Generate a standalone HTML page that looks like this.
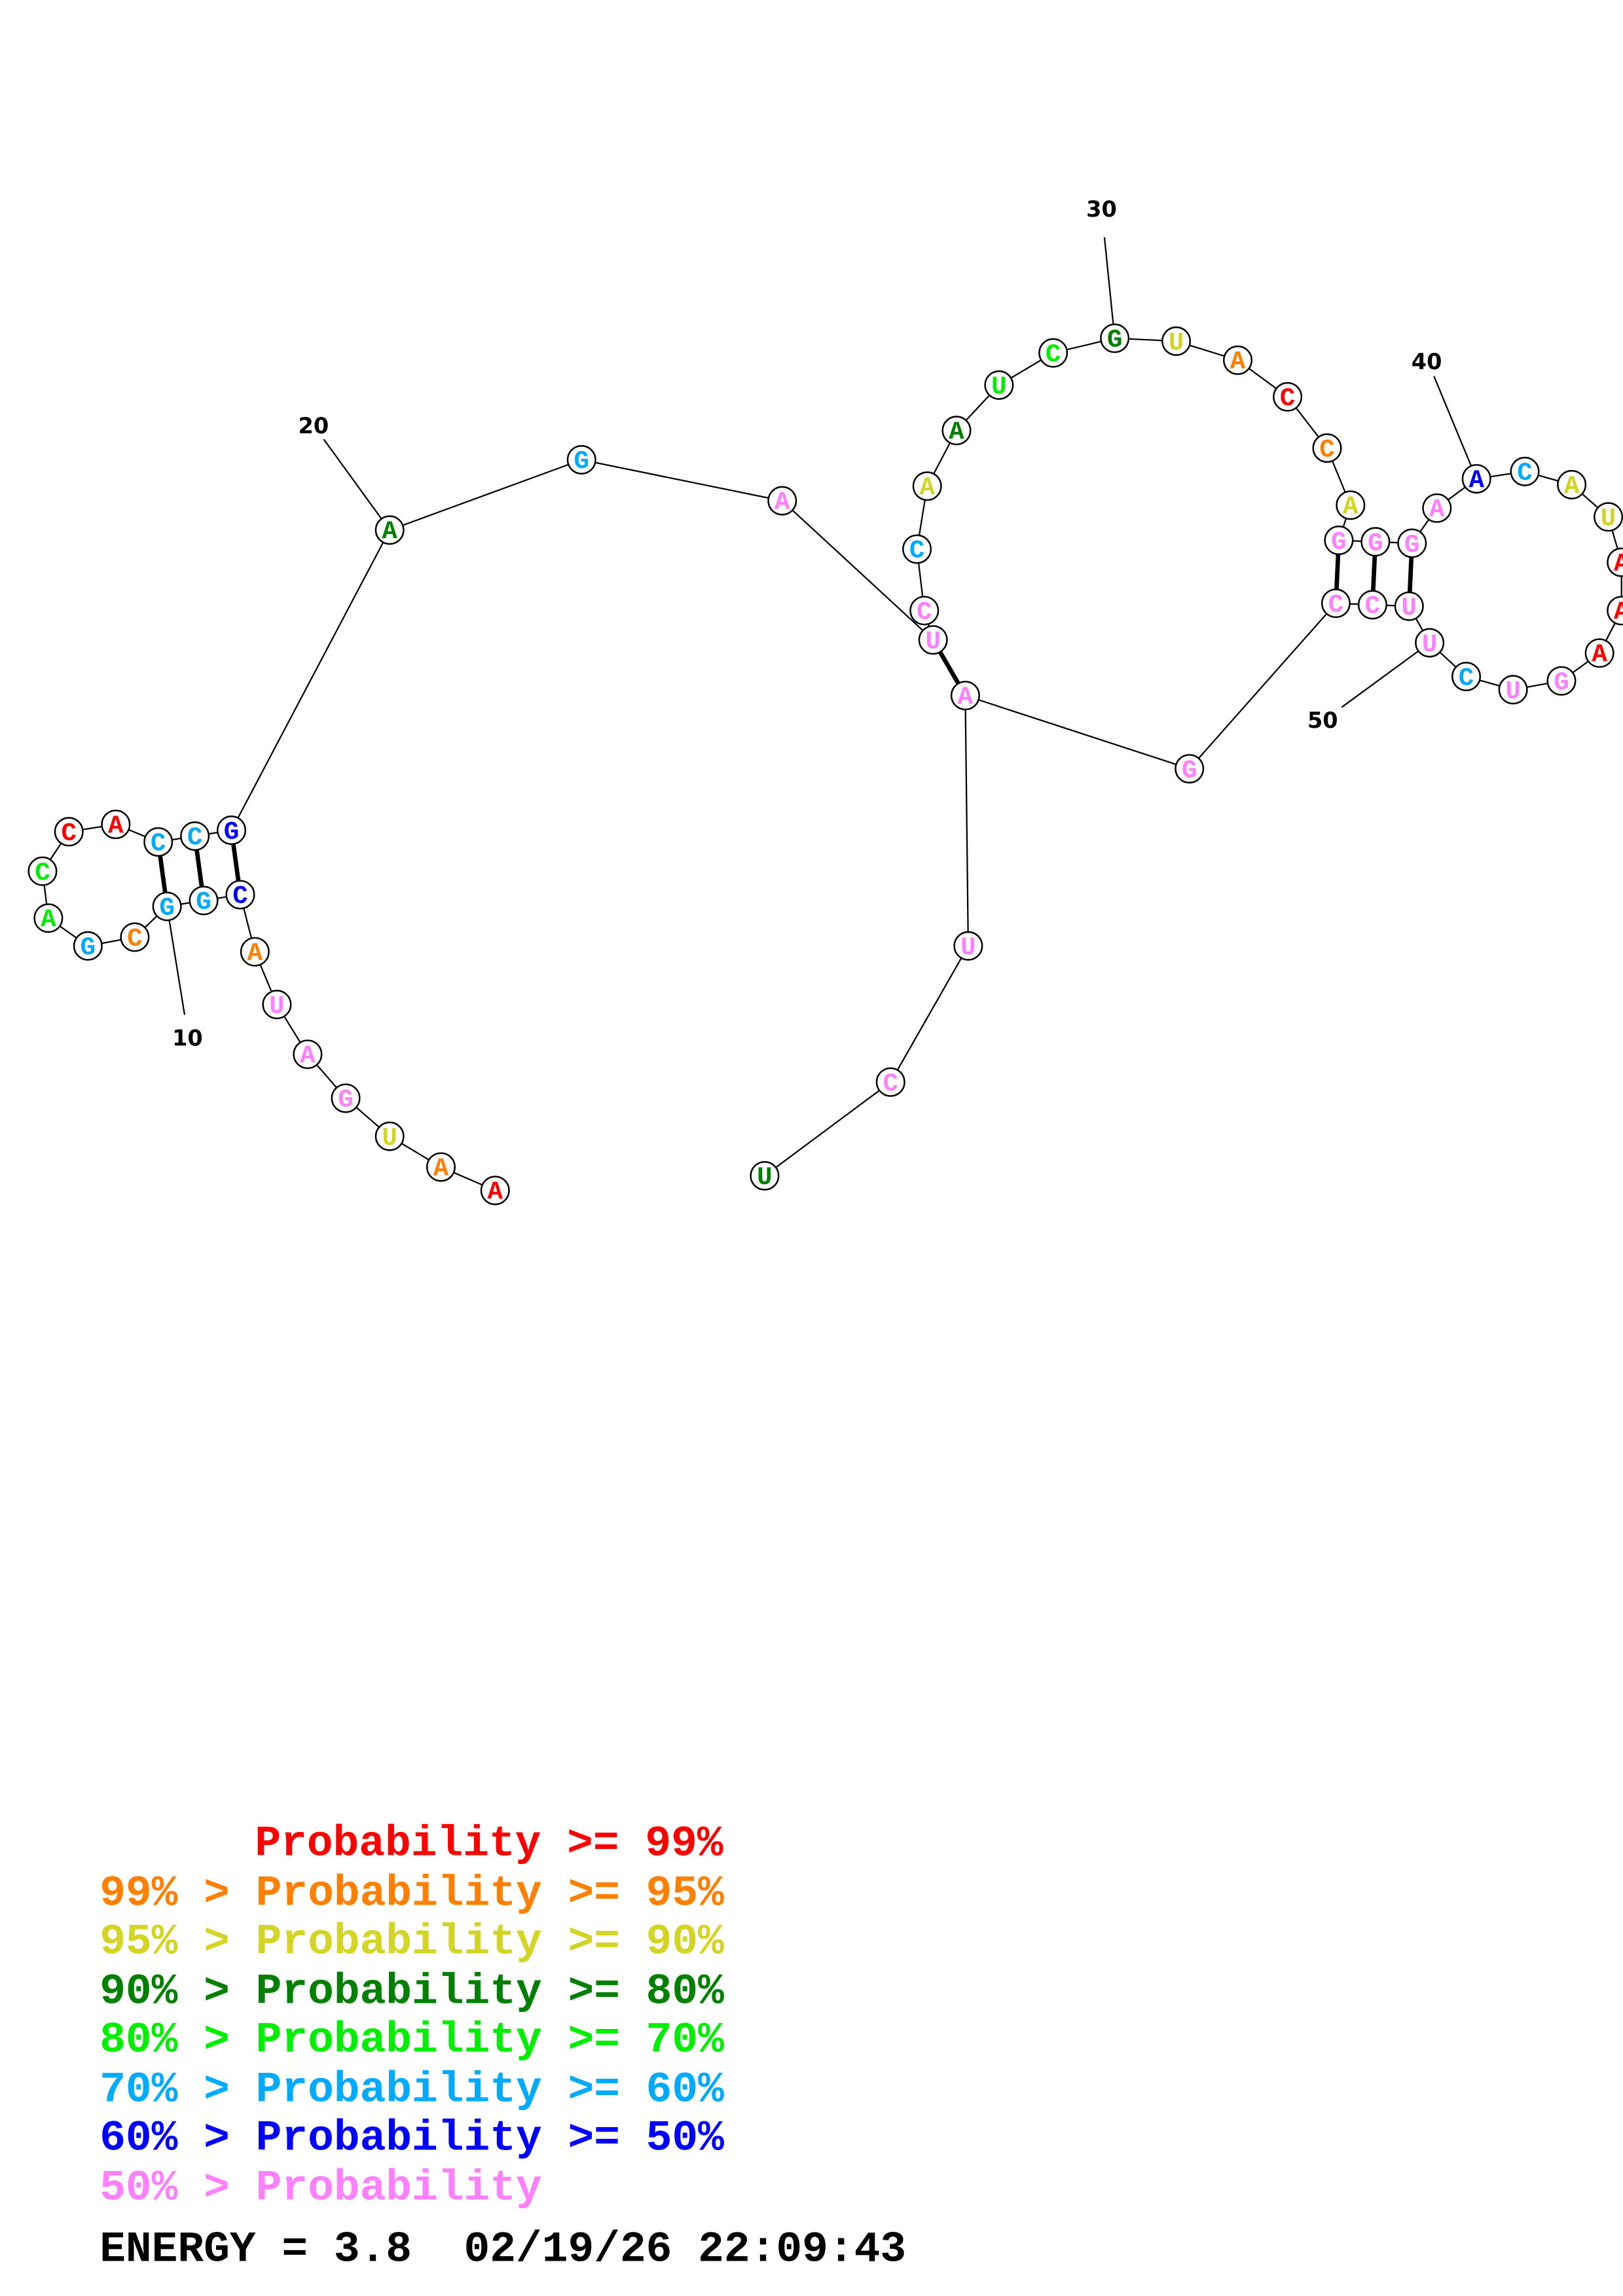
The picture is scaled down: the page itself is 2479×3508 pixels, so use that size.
<!DOCTYPE html>
<html><head><meta charset="utf-8"><style>
html,body{margin:0;padding:0;background:#fff;}
svg{display:block;}
.n{font-family:"Liberation Mono",monospace;font-weight:bold;font-size:17.5px;text-anchor:middle;}
.num{font-family:"DejaVu Sans","Liberation Sans",sans-serif;font-weight:bold;font-size:15px;text-anchor:middle;}
.lg{font-family:"Liberation Mono",monospace;font-weight:bold;font-size:29.6px;white-space:pre;}
circle{fill:#fff;stroke:#000;stroke-width:1.1;}
</style></head><body>
<svg width="2479" height="3508" viewBox="0 0 1108 1568" xmlns="http://www.w3.org/2000/svg">
<g stroke="#000" stroke-width="1" fill="none">
<polyline points="338,813 301,797 266,776 236,750 210,720 189,686 174,650 164,611 139,615 114,619 92,640 60,646 33,627 29,595 47,568 79,563 108,575 133,571 158,567 266,362 397,314 534,342 637,437 631,417 626,375 633,332 653,294 682,263 719,241 761,231 803,233 845,246 879,271 906,306 922,345 914,369 939,370 964,371 981,347 1008,327 1041,322 1073,331 1098,353 1107,384 1107,417 1092,446 1066,465 1033,471 1001,462 976,439 962,414 937,413 912,412 812,525 659,475 661,646 608,739 522,803"/>
<line x1="114" y1="619" x2="126" y2="693"/>
<line x1="266" y1="362" x2="221" y2="300"/>
<line x1="761" y1="231" x2="754" y2="162"/>
<line x1="1008" y1="327" x2="979" y2="257"/>
<line x1="976" y1="439" x2="916" y2="483"/>
</g>
<g stroke="#000" stroke-width="3">
<line x1="108" y1="575" x2="114" y2="619"/>
<line x1="133" y1="571" x2="139" y2="615"/>
<line x1="158" y1="567" x2="164" y2="611"/>
<line x1="637" y1="437" x2="659" y2="475"/>
<line x1="914" y1="369" x2="912" y2="412"/>
<line x1="939" y1="370" x2="937" y2="413"/>
<line x1="964" y1="371" x2="962" y2="414"/>
</g>
<g>
<circle cx="338" cy="813" r="9.5"/><circle cx="301" cy="797" r="9.5"/><circle cx="266" cy="776" r="9.5"/><circle cx="236" cy="750" r="9.5"/><circle cx="210" cy="720" r="9.5"/><circle cx="189" cy="686" r="9.5"/><circle cx="174" cy="650" r="9.5"/><circle cx="164" cy="611" r="9.5"/><circle cx="139" cy="615" r="9.5"/><circle cx="114" cy="619" r="9.5"/><circle cx="92" cy="640" r="9.5"/><circle cx="60" cy="646" r="9.5"/><circle cx="33" cy="627" r="9.5"/><circle cx="29" cy="595" r="9.5"/><circle cx="47" cy="568" r="9.5"/><circle cx="79" cy="563" r="9.5"/><circle cx="108" cy="575" r="9.5"/><circle cx="133" cy="571" r="9.5"/><circle cx="158" cy="567" r="9.5"/><circle cx="266" cy="362" r="9.5"/><circle cx="397" cy="314" r="9.5"/><circle cx="534" cy="342" r="9.5"/><circle cx="637" cy="437" r="9.5"/><circle cx="631" cy="417" r="9.5"/><circle cx="626" cy="375" r="9.5"/><circle cx="633" cy="332" r="9.5"/><circle cx="653" cy="294" r="9.5"/><circle cx="682" cy="263" r="9.5"/><circle cx="719" cy="241" r="9.5"/><circle cx="761" cy="231" r="9.5"/><circle cx="803" cy="233" r="9.5"/><circle cx="845" cy="246" r="9.5"/><circle cx="879" cy="271" r="9.5"/><circle cx="906" cy="306" r="9.5"/><circle cx="922" cy="345" r="9.5"/><circle cx="914" cy="369" r="9.5"/><circle cx="939" cy="370" r="9.5"/><circle cx="964" cy="371" r="9.5"/><circle cx="981" cy="347" r="9.5"/><circle cx="1008" cy="327" r="9.5"/><circle cx="1041" cy="322" r="9.5"/><circle cx="1073" cy="331" r="9.5"/><circle cx="1098" cy="353" r="9.5"/><circle cx="1107" cy="384" r="9.5"/><circle cx="1107" cy="417" r="9.5"/><circle cx="1092" cy="446" r="9.5"/><circle cx="1066" cy="465" r="9.5"/><circle cx="1033" cy="471" r="9.5"/><circle cx="1001" cy="462" r="9.5"/><circle cx="976" cy="439" r="9.5"/><circle cx="962" cy="414" r="9.5"/><circle cx="937" cy="413" r="9.5"/><circle cx="912" cy="412" r="9.5"/><circle cx="812" cy="525" r="9.5"/><circle cx="659" cy="475" r="9.5"/><circle cx="661" cy="646" r="9.5"/><circle cx="608" cy="739" r="9.5"/><circle cx="522" cy="803" r="9.5"/>
</g>
<g class="n" dominant-baseline="central">
<text x="338" y="814" fill="#ff0000">A</text><text x="301" y="798" fill="#ff8000">A</text><text x="266" y="777" fill="#d4d424">U</text><text x="236" y="751" fill="#ff80ff">G</text><text x="210" y="721" fill="#ff80ff">A</text><text x="189" y="687" fill="#ff80ff">U</text><text x="174" y="651" fill="#ff8000">A</text><text x="164" y="612" fill="#0000ff">C</text><text x="139" y="616" fill="#00aaff">G</text><text x="114" y="620" fill="#00aaff">G</text><text x="92" y="641" fill="#ff8000">C</text><text x="60" y="647" fill="#00aaff">G</text><text x="33" y="628" fill="#00ee00">A</text><text x="29" y="596" fill="#00ee00">C</text><text x="47" y="569" fill="#ff0000">C</text><text x="79" y="564" fill="#ff0000">A</text><text x="108" y="576" fill="#00aaff">C</text><text x="133" y="572" fill="#00aaff">C</text><text x="158" y="568" fill="#0000ff">G</text><text x="266" y="363" fill="#008000">A</text><text x="397" y="315" fill="#00aaff">G</text><text x="534" y="343" fill="#ff80ff">A</text><text x="637" y="438" fill="#ff80ff">U</text><text x="631" y="418" fill="#ff80ff">C</text><text x="626" y="376" fill="#00aaff">C</text><text x="633" y="333" fill="#d4d424">A</text><text x="653" y="295" fill="#008000">A</text><text x="682" y="264" fill="#00ee00">U</text><text x="719" y="242" fill="#00ee00">C</text><text x="761" y="232" fill="#008000">G</text><text x="803" y="234" fill="#d4d424">U</text><text x="845" y="247" fill="#ff8000">A</text><text x="879" y="272" fill="#ff0000">C</text><text x="906" y="307" fill="#ff8000">C</text><text x="922" y="346" fill="#d4d424">A</text><text x="914" y="370" fill="#ff80ff">G</text><text x="939" y="371" fill="#ff80ff">G</text><text x="964" y="372" fill="#ff80ff">G</text><text x="981" y="348" fill="#ff80ff">A</text><text x="1008" y="328" fill="#0000ff">A</text><text x="1041" y="323" fill="#00aaff">C</text><text x="1073" y="332" fill="#d4d424">A</text><text x="1098" y="354" fill="#d4d424">U</text><text x="1107" y="385" fill="#ff0000">A</text><text x="1107" y="418" fill="#ff0000">A</text><text x="1092" y="447" fill="#ff0000">A</text><text x="1066" y="466" fill="#ff80ff">G</text><text x="1033" y="472" fill="#ff80ff">U</text><text x="1001" y="463" fill="#00aaff">C</text><text x="976" y="440" fill="#ff80ff">U</text><text x="962" y="415" fill="#ff80ff">U</text><text x="937" y="414" fill="#ff80ff">C</text><text x="912" y="413" fill="#ff80ff">C</text><text x="812" y="526" fill="#ff80ff">G</text><text x="659" y="476" fill="#ff80ff">A</text><text x="661" y="647" fill="#ff80ff">U</text><text x="608" y="740" fill="#ff80ff">C</text><text x="522" y="804" fill="#008000">U</text>
</g>
<g class="num">
<text x="128" y="714">10</text><text x="214" y="296">20</text><text x="752" y="148">30</text><text x="974" y="252">40</text><text x="903" y="497">50</text>
</g>
<g class="lg">
<text x="174" y="1267" fill="#ff0000">Probability &gt;= 99%</text>
<text x="68" y="1301" fill="#ff8000">99% &gt; Probability &gt;= 95%</text>
<text x="68" y="1334" fill="#d4d424">95% &gt; Probability &gt;= 90%</text>
<text x="68" y="1368" fill="#008000">90% &gt; Probability &gt;= 80%</text>
<text x="68" y="1401" fill="#00ee00">80% &gt; Probability &gt;= 70%</text>
<text x="68" y="1435" fill="#00aaff">70% &gt; Probability &gt;= 60%</text>
<text x="68" y="1468" fill="#0000ff">60% &gt; Probability &gt;= 50%</text>
<text x="68" y="1502" fill="#ff80ff">50% &gt; Probability</text>
<text x="68" y="1544" fill="#000">ENERGY = 3.8&#160;&#160;02/19/26 22:09:43</text>
</g>
</svg>
</body></html>
